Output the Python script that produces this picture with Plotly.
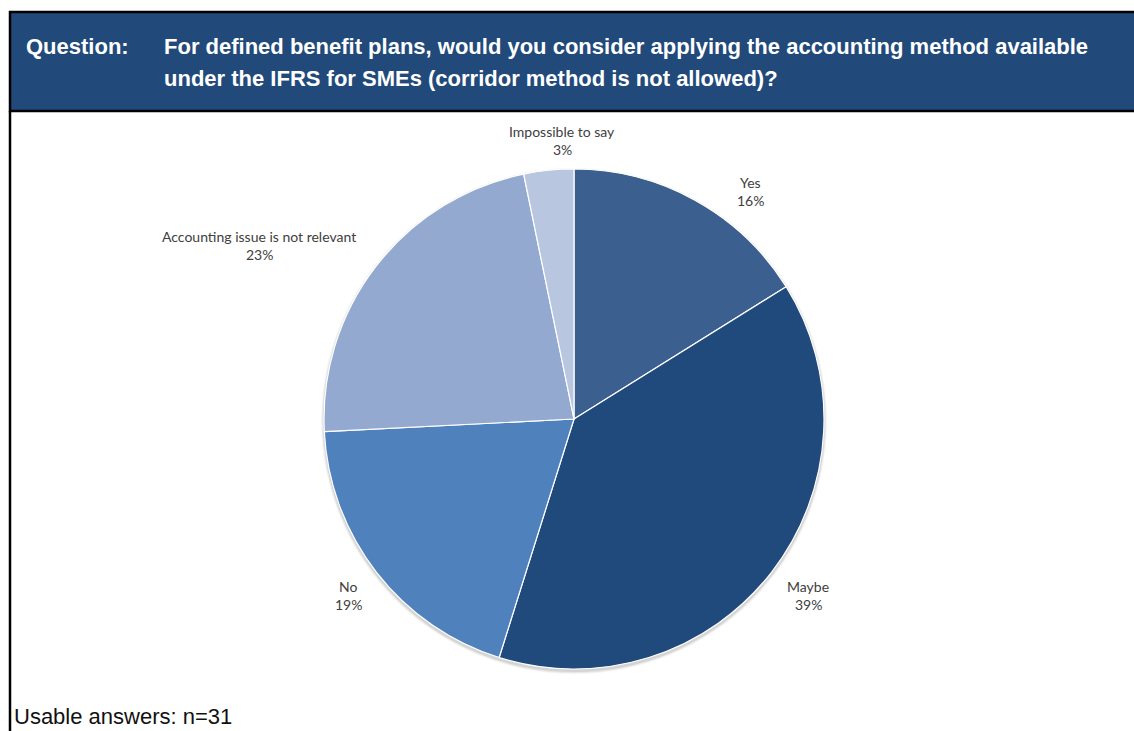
import plotly.graph_objects as go

# Survey answers (n=31), clockwise from 12 o'clock
categories = ["Yes", "Maybe", "No", "Accounting issue is not relevant", "Impossible to say"]
counts = [5, 12, 6, 7, 1]
colors = ["#3B5F8E", "#204A7C", "#4F81BD", "#94A9D0", "#B9C6E0"]

question_label = "Question:"
question_lines = [
    "For defined benefit plans, would you consider applying the accounting method available",
    "under the IFRS for SMEs (corridor method is not allowed)?",
]
footer_text = "Usable answers: n=31"

W, H = 1134, 731
CX, CY, R = 574, 419, 250

def px(x):
    return x / W

def py(y):
    return 1 - y / H

total = sum(counts)
percents = [round(c / total * 100) for c in counts]

fig = go.Figure(
    go.Pie(
        labels=categories,
        values=counts,
        sort=False,
        direction="clockwise",
        rotation=0,
        marker=dict(colors=colors, line=dict(color="white", width=1.2)),
        textinfo="none",
        hoverinfo="label+percent",
        showlegend=False,
        domain=dict(x=[px(CX - R), px(CX + R)], y=[py(CY + R), py(CY - R)]),
    )
)

# Label centres (name line) in pixels, one per category
label_pos = {
    "Yes": (750, 182),
    "Maybe": (808, 586),
    "No": (348, 586),
    "Accounting issue is not relevant": (259, 236),
    "Impossible to say": (562, 131),
}

annotations = []
label_font = dict(family="Lato, 'Open Sans', sans-serif", size=14, color="#404040")
for cat, pct in zip(categories, percents):
    x, y = label_pos[cat]
    annotations.append(dict(x=px(x), y=py(y), xref="paper", yref="paper", text=cat,
                            showarrow=False, font=label_font, xanchor="center", yanchor="middle"))
    annotations.append(dict(x=px(x), y=py(y + 18), xref="paper", yref="paper", text=f"{pct}%",
                            showarrow=False, font=label_font, xanchor="center", yanchor="middle"))

head_font = dict(family="'Liberation Sans Narrow', 'Arial Narrow', 'Liberation Sans', sans-serif",
                 size=22, color="white")
annotations.append(dict(x=px(24), y=py(47), xref="paper", yref="paper", text=f"<b>{question_label}</b>",
                        showarrow=False, font=head_font, xanchor="left", yanchor="middle"))
for i, line in enumerate(question_lines):
    annotations.append(dict(x=px(162), y=py(47 + 31 * i), xref="paper", yref="paper", text=f"<b>{line}</b>",
                            showarrow=False, font=head_font, xanchor="left", yanchor="middle"))

annotations.append(dict(x=px(12), y=py(716), xref="paper", yref="paper", text=footer_text,
                        showarrow=False, xanchor="left", yanchor="middle",
                        font=dict(family="'Liberation Sans', Arial, sans-serif", size=22, color="#111111")))

shapes = []
# soft shadow under the pie, built from a few translucent rings
for grow, alpha in [(4, 0.04), (3, 0.06), (2, 0.08)]:
    shapes.append(dict(type="circle", xref="paper", yref="paper", layer="below",
                       x0=px(CX - R - grow + 1), x1=px(CX + R + grow - 1),
                       y0=py(CY + R + grow + 1), y1=py(CY - R - grow + 3),
                       fillcolor=f"rgba(0,0,0,{alpha})", line=dict(width=0)))
shapes += [
    # question header band
    dict(type="rect", xref="paper", yref="paper",
         x0=px(10), x1=px(W + 10), y0=py(111), y1=py(12),
         fillcolor="#214A7B", line=dict(color="black", width=2.5)),
    # left frame edge
    dict(type="line", xref="paper", yref="paper",
         x0=px(10), x1=px(10), y0=py(111), y1=py(H + 5),
         line=dict(color="black", width=2.5)),
]

fig.update_layout(
    width=W, height=H,
    margin=dict(l=0, r=0, t=0, b=0),
    paper_bgcolor="white", plot_bgcolor="white",
    annotations=annotations,
    shapes=shapes,
)

fig.write_html("out.html")
